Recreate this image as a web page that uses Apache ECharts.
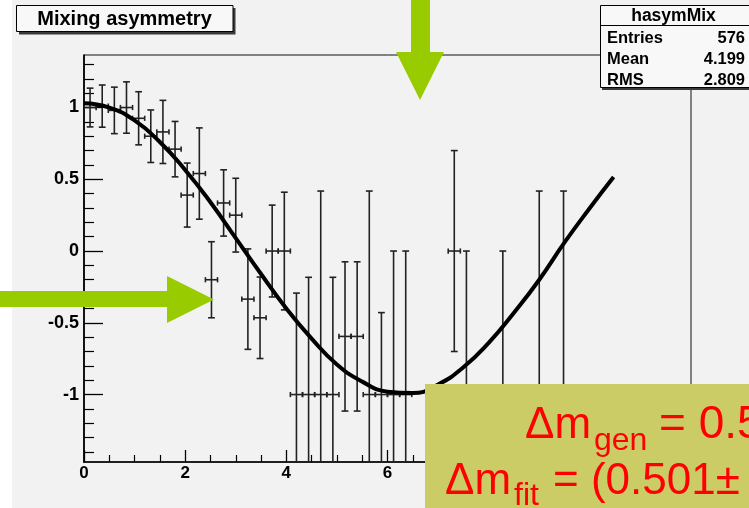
<!DOCTYPE html>
<html><head><meta charset="utf-8">
<script src="https://cdn.jsdelivr.net/npm/echarts@6/dist/echarts.min.js"></script>
<style>html,body{margin:0;padding:0;background:#fff}#c{width:749px;height:508px}</style>
</head><body><div id="c"></div>
<script>
// ---- data ----
const binCenters = [0.12,0.36,0.60,0.84,1.08,1.32,1.56,1.80,2.04,2.28,2.52,2.76,3.00,3.24,3.48,3.72,3.96,
                    4.20,4.44,4.68,4.92,5.16,5.40,5.64,5.88,6.12,6.36,7.32,7.56,8.28,9.00,9.48];
const asymValues = [1.00,1.01,0.98,1.00,0.925,0.80,0.83,0.71,0.39,0.54,-0.20,0.335,0.25,-0.335,-0.465,0.0,0.0,
                    -1,-1,-1,-1,-0.595,-0.595,-1,-1,-1,-1,0.0,-1,-1,-1,-1];
const asymErrors = [0.135,0.147,0.162,0.179,0.185,0.183,0.22,0.193,0.223,0.318,0.265,0.231,0.257,0.35,0.284,0.32,0.41,
                    0.707,0.817,1.418,0.817,0.52,0.52,1.418,0.571,1.0,1.0,0.70,1.0,1.0,1.418,1.418];
const binHalfWidth = 0.12;
const fitX = [0,0.5,1,1.5,2,2.5,3,3.5,4,4.5,5,5.5,6,6.5,7,7.5,8,8.5,9,9.5,10,10.47];
const fitY = [1.03,1.00,0.91,0.76,0.565,0.34,0.09,-0.16,-0.40,-0.61,-0.79,-0.91,-0.98,-0.99,-0.93,-0.81,-0.64,-0.43,-0.20,0.06,0.30,0.516];
const xTicks = [0,2,4,6,8,10,12];
const xMinorTicks = [0.5,1,1.5,2.5,3,3.5,4.5,5,5.5,6.5,7,7.5,8.5,9,9.5,10.5,11,11.5];
const yTicks = [-1,-0.5,0,0.5,1];
const yMinorTicks = [-1.4,-1.3,-1.2,-1.1,-0.9,-0.8,-0.7,-0.6,-0.4,-0.3,-0.2,-0.1,0.1,0.2,0.3,0.4,0.6,0.7,0.8,0.9,1.1,1.2,1.3];
const statsRows = [['Entries','576'],['Mean','4.199'],['RMS','2.809']];
const X_MIN = 0, X_MAX = 12, Y_MIN = -1.47, Y_MAX = 1.366;

const FONT = '"Liberation Sans", Arial, Helvetica, sans-serif';
const chart = echarts.init(document.getElementById('c'), null, {renderer:'canvas'});

const pointData = binCenters.map((x,i)=>[x, asymValues[i], asymErrors[i]]);
const fitData = fitX.map((x,i)=>[x, fitY[i]]);

function renderErr(params, api){
  const x = api.value(0), y = api.value(1), e = api.value(2);
  const hiV = Math.min(y+e, Y_MAX), loV = Math.max(y-e, Y_MIN);
  const st = {stroke:'#222', lineWidth:1.6};
  const ch = [];
  const pL = api.coord([x-binHalfWidth, y]), pR = api.coord([x+binHalfWidth, y]);
  const pHi = api.coord([x, hiV]), pLo = api.coord([x, loV]);
  ch.push({type:'line', shape:{x1:pL[0],y1:pL[1],x2:pR[0],y2:pR[1]}, style:st});
  ch.push({type:'line', shape:{x1:pL[0],y1:pL[1]-2.6,x2:pL[0],y2:pL[1]+2.6}, style:st});
  ch.push({type:'line', shape:{x1:pR[0],y1:pR[1]-2.6,x2:pR[0],y2:pR[1]+2.6}, style:st});
  ch.push({type:'line', shape:{x1:pHi[0],y1:pHi[1],x2:pLo[0],y2:pLo[1]}, style:st});
  if (hiV === y+e) ch.push({type:'line', shape:{x1:pHi[0]-3.4,y1:pHi[1],x2:pHi[0]+3.4,y2:pHi[1]}, style:st});
  if (loV === y-e) ch.push({type:'line', shape:{x1:pLo[0]-3.4,y1:pLo[1],x2:pLo[0]+3.4,y2:pLo[1]}, style:st});
  return {type:'group', children:ch};
}

const labelFont = {fontFamily:FONT, fontWeight:'bold', fontSize:17, color:'#000'};
const green = '#99cc00';

chart.setOption({
  backgroundColor:'#f2f2f2',
  animation:false,
  grid:{left:84, top:55, width:607, height:407, show:true, borderColor:'#111', borderWidth:1, backgroundColor:'transparent', containLabel:false},
  xAxis:[
    {type:'value', min:X_MIN, max:X_MAX, position:'bottom',
     axisLine:{onZero:false, lineStyle:{color:'#000', width:1.7}},
     axisTick:{inside:true, length:12, customValues:xTicks, lineStyle:{color:'#000', width:1.3}},
     axisLabel:{customValues:xTicks, margin:3, ...labelFont},
     splitLine:{show:false}},
    {type:'value', min:X_MIN, max:X_MAX, position:'bottom',
     axisLine:{show:false, onZero:false},
     axisTick:{inside:true, length:7, customValues:xMinorTicks, lineStyle:{color:'#000', width:1.2}},
     axisLabel:{show:false}, splitLine:{show:false}}
  ],
  yAxis:[
    {type:'value', min:Y_MIN, max:Y_MAX, position:'left',
     axisLine:{onZero:false, lineStyle:{color:'#000', width:1.7}},
     axisTick:{inside:true, length:19, customValues:yTicks, lineStyle:{color:'#000', width:1.3}},
     axisLabel:{customValues:yTicks, margin:5, ...labelFont, fontSize:18},
     splitLine:{show:false}},
    {type:'value', min:Y_MIN, max:Y_MAX, position:'left',
     axisLine:{show:false, onZero:false},
     axisTick:{inside:true, length:10, customValues:yMinorTicks, lineStyle:{color:'#000', width:1.2}},
     axisLabel:{show:false}, splitLine:{show:false}}
  ],
  series:[
    {type:'custom', name:'asym', xAxisIndex:0, yAxisIndex:0, data:pointData, renderItem:renderErr, clip:true, z:3},
    {type:'line', name:'fit', xAxisIndex:0, yAxisIndex:0, data:fitData, smooth:true, showSymbol:false, symbol:'none',
     lineStyle:{color:'#000', width:4}, z:4}
  ],
  graphic:[
    {type:'rect', z:-1, silent:true, shape:{x:0,y:0,width:12,height:508}, style:{fill:'#ffffff'}},
    // title box
    {type:'rect', z:100, shape:{x:19,y:8,width:216.5,height:26.5}, style:{fill:'#3a3a3a'}},
    {type:'rect', z:101, shape:{x:16.5,y:5.5,width:216.5,height:26}, style:{fill:'#f8f8f8', stroke:'#000', lineWidth:1}},
    {type:'text', z:102, x:124.5, y:19.5, style:{text:'Mixing asymmetry', font:'bold 20px '+FONT, fill:'#000', align:'center', verticalAlign:'middle'}},
    // stats box
    {type:'rect', z:100, shape:{x:602,y:8,width:160,height:82}, style:{fill:'#3a3a3a'}},
    {type:'rect', z:101, shape:{x:600.5,y:5.5,width:160,height:82}, style:{fill:'#f8f8f8', stroke:'#000', lineWidth:1}},
    {type:'line', z:102, shape:{x1:600.5,y1:25.5,x2:760,y2:25.5}, style:{stroke:'#000', lineWidth:1}},
    {type:'text', z:102, x:673.5, y:16, style:{text:'hasymMix', font:'bold 17.5px '+FONT, fill:'#000', align:'center', verticalAlign:'middle'}},
    ...statsRows.flatMap((r,i)=>[
      {type:'text', z:102, x:607, y:38.7+i*20.8, style:{text:r[0], font:'bold 16.5px '+FONT, fill:'#000', align:'left', verticalAlign:'middle'}},
      {type:'text', z:102, x:745, y:38.7+i*20.8, style:{text:r[1], font:'bold 16.5px '+FONT, fill:'#000', align:'right', verticalAlign:'middle'}}
    ]),
    // arrows
    {type:'polygon', z:110, shape:{points:[[411,0],[430,0],[430,52],[444,52],[420,100],[396,52],[411,52]]}, style:{fill:green}},
    {type:'polygon', z:110, shape:{points:[[0,291],[167,291],[167,276],[214,299.5],[167,323],[167,307],[0,307]]}, style:{fill:green}},
    // result box
    {type:'rect', z:110, shape:{x:425,y:384,width:340,height:140}, style:{fill:'#cccc66'}},
    {type:'text', z:111, x:525, y:425.5, style:{text:'Δm', font:'44px '+FONT, fill:'#ff0000', align:'left', verticalAlign:'middle'}},
    {type:'text', z:111, x:594, y:441, style:{text:'gen', font:'32px '+FONT, fill:'#ff0000', align:'left', verticalAlign:'middle'}},
    {type:'text', z:111, x:659, y:425, style:{text:'= 0.5', font:'46px '+FONT, fill:'#ff0000', align:'left', verticalAlign:'middle'}},
    {type:'text', z:111, x:445, y:481.5, style:{text:'Δm', font:'44px '+FONT, fill:'#ff0000', align:'left', verticalAlign:'middle'}},
    {type:'text', z:111, x:514, y:496, style:{text:'fit', font:'32px '+FONT, fill:'#ff0000', align:'left', verticalAlign:'middle'}},
    {type:'text', z:111, x:553, y:481.5, style:{text:'= (0.501±', font:'44px '+FONT, fill:'#ff0000', align:'left', verticalAlign:'middle'}}
  ]
});
</script></body></html>
